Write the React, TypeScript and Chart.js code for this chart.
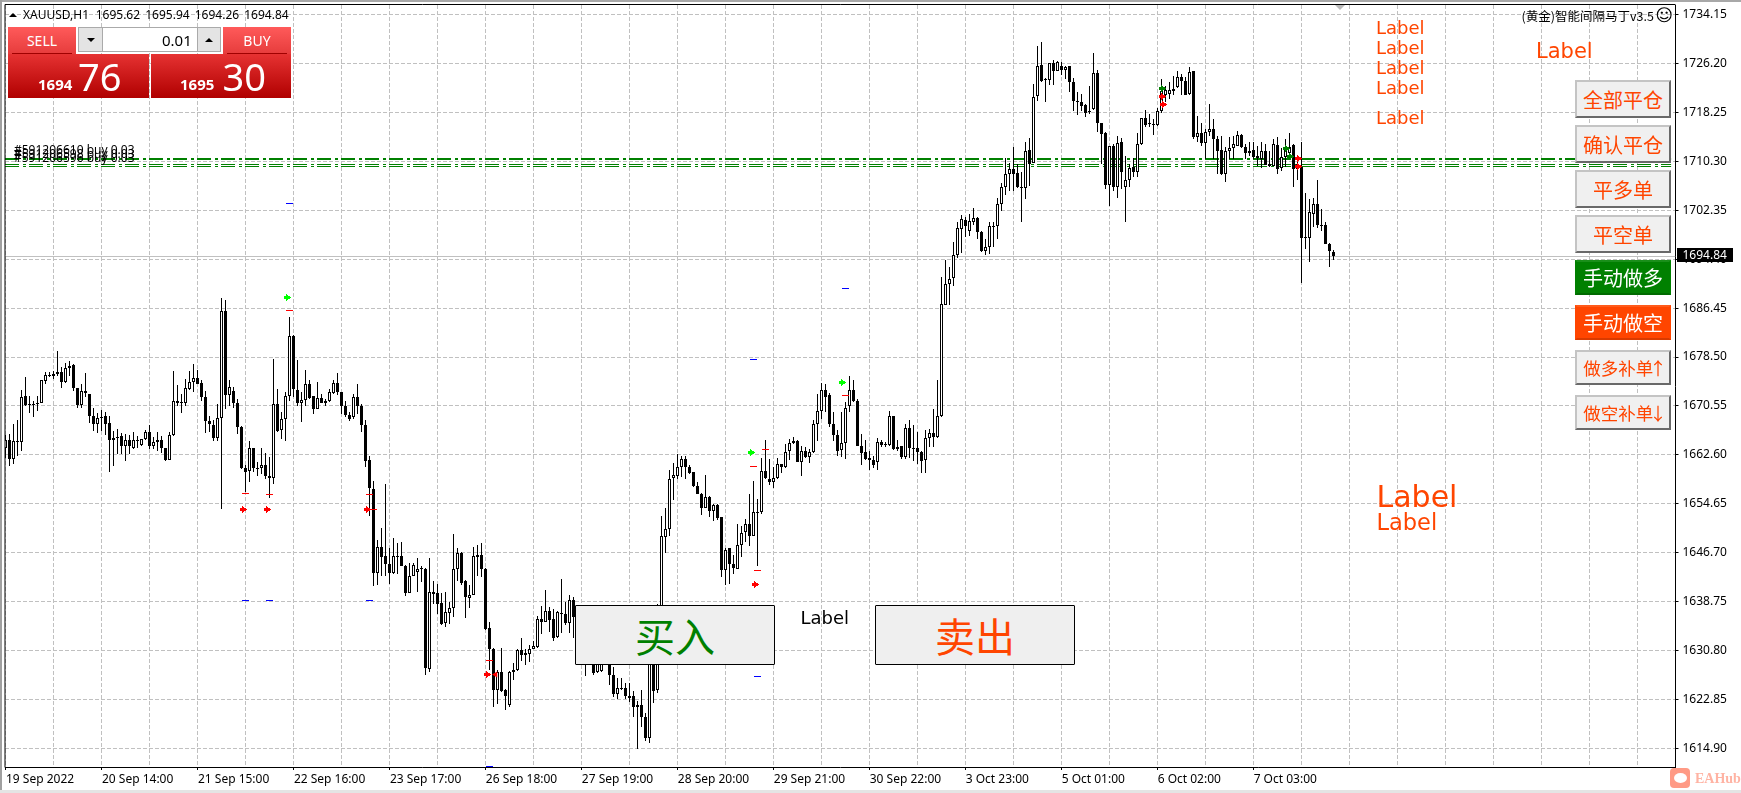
import React, { useEffect, useRef } from "react";
import { Chart, registerables } from "chart.js";

Chart.register(...registerables);

const opens = [
1663.8,1665.0,1662.0,1664.9,1664.7,1672.2,1670.8,1670.9,1670.8,1671.0,1674.6,1675.6,
1675.7,1675.7,1676.1,1674.4,1676.7,1677.2,1673.5,1670.7,1673.0,1672.5,1668.9,1667.7,
1668.8,1669.0,1667.8,1665.4,1665.5,1665.6,1664.0,1665.0,1663.8,1665.0,1664.2,1665.2,
1666.4,1664.0,1664.7,1665.0,1663.7,1661.8,1665.8,1671.4,1671.2,1671.1,1673.3,1674.4,
1675.1,1674.3,1672.0,1668.1,1667.5,1665.3,1668.6,1686.0,1672.4,1673.0,1671.0,1667.2,
1660.5,1660.0,1663.7,1660.5,1660.4,1661.0,1659.2,1658.8,1670.9,1666.6,1668.4,1672.2,
1681.9,1673.1,1671.0,1671.5,1674.1,1672.1,1670.0,1671.9,1671.0,1671.3,1672.7,1674.3,
1672.8,1670.6,1669.1,1668.7,1672.0,1670.6,1667.5,1661.7,1657.1,1643.4,1647.7,1646.1,
1644.9,1643.4,1646.2,1646.2,1644.6,1640.2,1643.0,1643.6,1644.2,1644.1,1627.8,1640.4,
1640.1,1638.5,1635.3,1636.9,1637.8,1644.1,1646.6,1642.1,1639.4,1639.8,1646.3,1646.4,
1644.1,1634.4,1631.1,1624.4,1627.4,1624.4,1622.0,1627.4,1627.6,1630.9,1630.4,1630.3,
1631.1,1631.4,1636.0,1635.5,1637.3,1635.9,1633.0,1636.9,1636.8,1635.3,1639.0,1636.3,
1633.6,1629.2,1632.5,1630.9,1627.3,1627.5,1628.8,1629.8,1626.8,1623.7,1624.8,1624.7,
1623.5,1623.4,1621.9,1621.9,1620.1,1616.6,1636.8,1624.4,1636.8,1649.3,1650.6,1658.8,
1659.1,1660.6,1661.9,1660.7,1659.9,1657.5,1656.3,1654.0,1655.8,1653.5,1654.5,1652.5,
1643.9,1647.4,1644.9,1644.1,1647.9,1650.1,1651.4,1649.4,1653.4,1653.3,1660.0,1658.7,
1658.2,1658.8,1661.2,1660.6,1663.2,1664.6,1664.9,1661.4,1663.3,1662.3,1663.1,1667.7,
1669.7,1673.2,1672.4,1667.7,1665.9,1663.4,1664.6,1670.6,1673.2,1671.4,1664.1,1663.1,
1662.1,1661.8,1661.5,1664.7,1664.3,1664.2,1669.0,1663.5,1664.1,1662.2,1667.0,1663.8,
1663.7,1663.1,1661.7,1665.3,1666.2,1665.5,1668.9,1687.0,1690.4,1691.4,1695.0,1699.3,
1700.8,1698.9,1700.4,1701.1,1698.8,1695.7,1696.3,1699.8,1699.8,1703.3,1706.1,1708.2,
1709.1,1708.4,1706.2,1706.0,1712.1,1710.1,1720.9,1726.0,1723.6,1723.5,1726.2,1724.9,
1725.7,1725.2,1725.7,1723.2,1720.1,1720.0,1719.5,1718.4,1718.8,1724.6,1716.6,1714.9,
1706.5,1712.8,1706.1,1713.5,1706.1,1707.3,1709.4,1708.5,1713.1,1717.3,1716.5,1716.3,
1716.2,1718.5,1721.1,1721.3,1721.7,1722.3,1724.0,1723.4,1721.2,1724.9,1714.2,1714.9,
1713.2,1715.0,1715.5,1714.0,1712.1,1708.3,1711.9,1712.4,1712.8,1714.6,1712.7,1712.0,
1712.1,1711.1,1710.6,1712.0,1709.9,1709.6,1713.0,1709.2,1711.0,1711.7,1713.0,1709.0,
1709.3,1698.0,1697.8,1701.8,1703.3,1700.0,1700.0,1696.9,1695.62,
];

const highs = [
1665.9,1666.0,1667.6,1668.2,1673.2,1675.3,1672.2,1671.4,1672.1,1674.8,1676.0,1676.1,
1676.3,1679.5,1676.9,1677.5,1677.9,1677.3,1673.5,1674.1,1675.9,1672.5,1670.2,1669.4,
1669.9,1669.5,1668.9,1666.5,1666.8,1666.2,1666.0,1665.9,1666.4,1665.7,1665.2,1666.7,
1667.5,1665.5,1666.3,1665.7,1663.8,1666.4,1676.3,1674.0,1672.5,1674.9,1676.3,1677.4,
1676.4,1674.7,1673.0,1668.9,1668.2,1670.9,1688.1,1687.8,1674.8,1673.6,1671.7,1667.3,
1660.9,1664.9,1663.8,1661.4,1663.7,1662.9,1662.2,1678.2,1673.3,1669.5,1672.8,1685.0,
1682.0,1678.0,1672.8,1676.4,1674.7,1672.2,1674.4,1672.5,1671.7,1673.3,1674.8,1675.9,
1672.9,1671.4,1669.5,1672.5,1674.1,1670.9,1668.3,1662.5,1658.4,1648.7,1650.8,1657.9,
1647.5,1649.1,1648.3,1648.5,1644.7,1645.1,1645.1,1645.8,1644.6,1644.2,1645.9,1642.1,
1641.7,1640.2,1640.3,1638.7,1649.8,1647.5,1646.8,1642.3,1641.4,1647.6,1647.9,1648.3,
1644.2,1635.5,1631.3,1627.7,1631.3,1624.6,1627.5,1628.8,1631.0,1632.9,1631.0,1631.8,
1632.4,1636.4,1638.0,1640.6,1637.9,1637.5,1637.3,1642.5,1638.7,1639.9,1639.5,1637.3,
1634.6,1633.6,1633.0,1631.9,1630.9,1630.3,1630.3,1630.3,1628.2,1626.4,1626.4,1625.6,
1625.6,1624.3,1622.7,1624.4,1620.6,1634.6,1637.3,1638.3,1652.6,1654.0,1660.1,1661.3,
1662.8,1662.5,1662.5,1660.9,1659.9,1658.2,1656.4,1659.4,1655.9,1654.7,1654.7,1652.5,
1647.5,1647.4,1646.3,1651.3,1651.1,1652.2,1656.2,1658.3,1655.5,1662.1,1665.0,1662.0,
1660.6,1662.1,1661.2,1664.3,1665.2,1665.5,1665.0,1664.0,1663.9,1663.6,1668.2,1672.5,
1674.3,1674.1,1672.6,1669.5,1666.7,1669.5,1671.2,1675.5,1674.7,1671.7,1666.0,1665.0,
1663.3,1662.4,1665.4,1665.1,1664.7,1669.7,1669.0,1665.1,1664.1,1667.7,1668.3,1667.5,
1666.3,1663.3,1666.6,1666.8,1670.1,1674.7,1691.5,1694.3,1693.2,1697.2,1700.5,1701.6,
1701.2,1701.7,1702.7,1701.3,1699.0,1697.6,1700.5,1700.5,1704.4,1706.8,1710.8,1710.0,
1712.7,1709.8,1708.5,1713.4,1714.1,1722.8,1729.0,1729.7,1723.9,1726.3,1726.7,1726.6,
1726.5,1725.8,1725.8,1723.8,1721.5,1721.3,1719.6,1722.6,1727.9,1725.2,1716.6,1715.0,
1712.8,1713.1,1714.4,1714.1,1711.2,1709.8,1710.9,1714.9,1717.4,1718.6,1718.0,1717.1,
1718.9,1723.6,1722.6,1723.1,1724.2,1725.0,1724.4,1724.0,1725.6,1725.0,1717.7,1716.6,
1715.5,1719.6,1717.1,1714.4,1714.4,1712.7,1714.2,1714.4,1715.2,1714.7,1713.1,1713.4,
1713.4,1712.8,1713.4,1713.1,1712.0,1713.9,1714.2,1712.5,1713.9,1714.9,1713.1,1711.4,
1713.5,1705.1,1704.2,1704.3,1707.3,1702.5,1700.4,1697.1,1695.94,
];

const lows = [
1662.1,1660.8,1661.1,1662.5,1663.3,1670.5,1669.4,1668.8,1669.7,1671.0,1674.2,1675.2,
1674.9,1675.4,1673.4,1674.3,1675.5,1673.0,1670.3,1670.2,1672.0,1667.8,1666.5,1666.1,
1666.5,1665.9,1659.9,1660.8,1662.8,1662.8,1661.6,1662.8,1663.5,1663.8,1664.1,1665.1,
1663.5,1663.5,1663.3,1662.9,1661.6,1661.7,1665.7,1670.6,1669.4,1670.6,1673.1,1672.8,
1674.2,1671.4,1666.1,1666.4,1664.9,1664.8,1653.8,1670.1,1670.6,1670.2,1666.0,1660.3,
1656.5,1658.2,1659.8,1659.2,1659.5,1658.7,1655.6,1657.9,1666.4,1665.2,1664.8,1671.3,
1672.0,1670.5,1667.9,1670.5,1671.7,1669.3,1670.0,1671.0,1670.6,1671.2,1672.5,1672.4,
1669.3,1668.8,1668.1,1668.5,1669.3,1666.3,1660.7,1652.6,1641.3,1641.4,1642.9,1642.9,
1641.6,1643.3,1643.3,1644.5,1639.6,1640.1,1642.9,1640.3,1642.0,1626.9,1627.4,1638.4,
1636.8,1634.9,1634.6,1635.2,1636.2,1642.1,1641.4,1636.1,1637.8,1639.8,1643.0,1642.8,
1634.1,1627.6,1621.7,1622.1,1624.1,1621.1,1621.7,1626.0,1627.5,1629.1,1628.4,1628.9,
1631.0,1631.3,1633.5,1635.4,1633.8,1632.4,1632.9,1633.6,1635.0,1633.6,1632.9,1632.5,
1629.8,1626.7,1628.7,1626.8,1627.1,1627.3,1628.6,1625.2,1623.3,1622.9,1624.4,1623.0,
1622.5,1620.0,1614.9,1618.4,1616.1,1615.8,1622.3,1623.9,1636.5,1646.7,1649.5,1655.2,
1658.7,1659.0,1658.7,1659.5,1657.4,1656.2,1652.8,1653.9,1652.5,1651.8,1652.0,1642.7,
1641.4,1641.6,1643.3,1644.0,1646.0,1648.5,1647.8,1649.4,1644.6,1653.0,1658.7,1657.7,
1657.2,1658.7,1659.7,1660.5,1661.7,1664.4,1661.4,1659.1,1662.1,1661.3,1662.9,1664.8,
1668.5,1669.5,1667.1,1664.8,1662.5,1662.2,1661.9,1669.5,1671.2,1664.0,1660.9,1661.7,
1660.1,1660.5,1660.1,1663.9,1663.9,1664.0,1663.4,1663.3,1662.0,1661.9,1662.1,1661.6,
1661.1,1659.7,1659.7,1663.9,1663.9,1665.3,1668.8,1687.0,1687.0,1690.0,1694.6,1695.4,
1698.0,1698.1,1700.0,1697.6,1695.6,1695.1,1695.2,1696.3,1697.6,1702.2,1704.9,1705.4,
1705.5,1705.9,1700.5,1704.1,1706.3,1710.0,1720.1,1723.2,1720.0,1722.7,1722.7,1724.9,
1724.3,1723.6,1721.5,1718.5,1717.8,1718.4,1717.5,1718.0,1718.6,1715.0,1709.9,1705.8,
1703.1,1705.5,1704.4,1705.8,1700.4,1706.2,1707.7,1707.7,1712.9,1715.9,1715.8,1714.6,
1716.1,1718.1,1719.9,1720.4,1721.1,1722.2,1721.1,1721.1,1721.1,1714.0,1713.5,1712.8,
1710.7,1714.4,1710.7,1708.3,1708.1,1707.0,1710.7,1710.7,1712.8,1712.5,1710.7,1711.2,
1710.7,1709.6,1709.2,1709.7,1709.3,1709.5,1708.3,1708.8,1709.3,1711.0,1706.2,1707.3,
1690.5,1696.1,1693.9,1699.6,1699.5,1699.0,1696.8,1693.2,1694.26,
];

const closes = [
1665.0,1662.0,1664.9,1664.7,1672.0,1670.7,1670.7,1670.7,1671.0,1674.7,1675.6,1675.5,
1675.5,1676.1,1674.4,1676.7,1677.0,1673.4,1670.7,1673.0,1672.6,1668.9,1667.7,1668.6,
1668.6,1667.7,1665.1,1665.1,1665.3,1664.1,1665.0,1664.0,1665.0,1664.9,1665.2,1666.4,
1664.0,1664.7,1665.0,1663.7,1661.8,1665.8,1671.4,1671.0,1671.0,1673.5,1674.4,1675.1,
1674.2,1672.0,1668.1,1667.6,1665.3,1668.6,1686.0,1672.4,1673.6,1671.0,1667.1,1660.4,
1659.9,1663.7,1660.4,1660.4,1661.0,1659.1,1658.8,1670.9,1666.5,1668.4,1672.2,1681.9,
1673.3,1671.0,1671.5,1674.1,1671.9,1670.0,1671.8,1671.1,1671.3,1672.8,1674.3,1672.8,
1670.5,1669.1,1668.5,1672.0,1670.5,1667.4,1661.6,1657.2,1643.4,1647.7,1646.0,1644.8,
1643.4,1646.2,1646.1,1644.5,1640.2,1643.0,1644.7,1644.1,1644.0,1628.0,1640.4,1640.0,
1638.4,1635.2,1637.0,1637.8,1644.1,1646.6,1641.8,1639.5,1639.9,1646.1,1646.0,1644.0,
1634.3,1631.0,1624.4,1627.4,1624.3,1623.4,1627.4,1627.7,1630.9,1630.1,1630.1,1631.1,
1631.6,1636.0,1635.5,1637.3,1635.8,1632.9,1637.1,1636.7,1635.3,1639.1,1636.2,1633.6,
1631.4,1632.5,1629.8,1627.2,1630.3,1629.8,1629.8,1626.8,1623.7,1624.8,1624.6,1623.4,
1623.1,1621.7,1621.7,1620.0,1616.6,1633.6,1624.3,1636.8,1649.4,1650.6,1658.7,1659.4,
1660.7,1662.0,1660.6,1659.7,1657.5,1656.2,1654.0,1655.8,1653.5,1654.4,1652.3,1643.9,
1647.2,1644.9,1644.2,1647.9,1649.9,1651.4,1649.4,1653.4,1653.3,1660.0,1658.8,1658.2,
1658.9,1661.2,1660.6,1663.1,1664.6,1664.9,1661.4,1663.3,1662.3,1663.1,1667.7,1669.8,
1673.2,1672.0,1667.7,1665.9,1663.2,1664.6,1670.3,1673.2,1671.3,1664.0,1662.9,1661.9,
1661.7,1661.0,1664.7,1664.2,1664.2,1669.0,1663.5,1663.9,1662.2,1667.0,1663.7,1663.7,
1663.1,1661.6,1665.3,1666.1,1665.5,1668.9,1687.1,1690.4,1691.2,1695.1,1699.5,1700.9,
1699.8,1700.6,1701.1,1698.8,1695.7,1696.4,1699.8,1699.7,1703.4,1706.1,1708.2,1709.0,
1708.3,1706.1,1706.0,1712.0,1709.9,1720.7,1725.8,1723.3,1723.5,1726.2,1724.9,1726.5,
1725.2,1725.6,1723.1,1720.1,1719.9,1719.3,1718.2,1718.3,1724.6,1716.5,1714.8,1706.5,
1712.8,1706.2,1713.3,1708.5,1707.3,1709.2,1708.5,1713.1,1717.3,1716.2,1716.3,1716.2,
1718.4,1721.7,1721.9,1721.9,1722.1,1724.0,1723.3,1721.1,1724.8,1714.2,1714.9,1713.2,
1715.0,1715.5,1714.0,1712.0,1708.3,1712.0,1712.4,1713.1,1714.5,1712.7,1711.7,1711.7,
1711.0,1710.8,1712.0,1709.7,1709.5,1713.1,1709.1,1711.0,1712.7,1712.7,1709.0,1709.9,
1697.9,1697.9,1702.1,1703.4,1699.9,1699.9,1696.8,1695.7,1694.84,
];

const yTicks = [1734.15,1726.2,1718.25,1710.3,1702.35,1694.4,1686.45,1678.5,1670.55,1662.6,1654.65,1646.7,1638.75,1630.8,1622.85,1614.9];
const xTickLabels = ["19 Sep 2022","20 Sep 14:00","21 Sep 15:00","22 Sep 16:00","23 Sep 17:00","26 Sep 18:00","27 Sep 19:00","28 Sep 20:00","29 Sep 21:00","30 Sep 22:00","3 Oct 23:00","5 Oct 01:00","6 Oct 02:00","7 Oct 03:00"];
const orderLineThick = 1710.7;
const orderLinesThin = [1709.81, 1709.49];
const lastPrice = 1694.84;

const limeArrows = [[70.3,1688.2],[186.4,1662.95],[209.3,1674.4]];
const greenArrows = [[289.3,1722.1],[320.3,1712.3],[321.3,1711.0]];
const redArrows = [[59.3,1653.8],[65.3,1653.8],[90.3,1653.8],[120.3,1626.9],[187.4,1641.5],[289.3,1720.8],[289.5,1719.5],[323.3,1710.7],[323.3,1709.5]];
const redLeftTriangles = [[122.4,1626.9]];
const redDashes = [[71,1686.0],[60,1656.3],[66,1656.1],[91,1656.1],[92,1653.7],[121,1629.2],[187,1660.7],[190,1663.4],[188,1643.8],[210,1672.2]];
const blueDashes = [[71,1703.4],[60,1638.9],[66,1638.9],[91,1638.9],[121,1612.0],[187,1678.1],[210,1689.6],[188,1626.6]];

const orderLabels = ["#591206610 buy 0.03", "#591206598 buy 0.03", "#591206596 buy 0.03"];
const orangeLabels: [number, number, number][] = [[1376,28.3,18],[1376,48.3,18],[1376,68.3,18],[1376,88.3,18],[1376,118.3,18],[1536,50.7,21],[1376.5,496.7,30],[1376.5,521.7,22.5]];
const sideButtons: [string, number, number, string][] = [
  ["全部平仓",80,38,"plain"],["确认平仓",125,38,"plain"],["平多单",170,38,"plain"],["平空单",215,38,"plain"],
  ["手动做多",260,35,"green"],["手动做空",305,35,"orange"],["做多补单↑",350,35,"small"],["做空补单↓",395,35,"small"],
];

const UI = '"Noto Sans", sans-serif';
const CJK = '"Noto Sans CJK SC", sans-serif';
const ORANGE = "#ff4500";
const GREEN = "#008000";

function arrowCanvas(color: string) {
  const c = document.createElement("canvas");
  c.width = 7; c.height = 7;
  const g = c.getContext("2d")!;
  g.fillStyle = color;
  ["..X....","..XX...","XXXXXX.","XXXXXXX","XXXXXX.","..XX...","..X...."].forEach((row, y) =>
    row.split("").forEach((ch, x) => { if (ch === "X") g.fillRect(x, y, 1, 1); }));
  return c;
}
const toXY = (a: number[][]) => a.map(([x, y]) => ({ x, y }));

const snap = {
  id: "snap",
  afterDatasetsUpdate(chart: any) {
    chart.getSortedVisibleDatasetMetas().forEach((meta: any) => {
      meta.data.forEach((el: any) => {
        if (meta.type === "bar") {
          const top = Math.round(Math.min(el.y, el.base));
          let bot = Math.round(Math.max(el.y, el.base));
          if (bot - top < 1) bot = top + 1;
          el.y = top; el.base = bot; el.height = bot - top;
          el.x = Math.floor(el.x) + 0.5;
          el.width = meta.controller.getDataset().maxBarThickness;
        } else if (meta.type === "line") {
          const w = meta.controller.getDataset().borderWidth;
          el.y = w === 2 ? Math.round(el.y) : Math.floor(el.y) + 0.5;
        } else {
          el.x = Math.floor(el.x) + 0.5; el.y = Math.floor(el.y) + 0.5;
        }
      });
    });
  },
};

const frame = {
  id: "frame",
  afterDatasetsDraw(chart: any) {
    const { ctx, chartArea: a } = chart;
    ctx.save();
    ctx.strokeStyle = "#000"; ctx.lineWidth = 1;
    ctx.beginPath();
    ctx.moveTo(a.left, 767.5); ctx.lineTo(a.left, 4.5); ctx.lineTo(a.right, 4.5);
    ctx.stroke();
    ctx.restore();
  },
};

function Box({ l, t, w, h, style, children }: any) {
  return <div style={{ position: "absolute", left: l, top: t, width: w, height: h, boxSizing: "border-box", ...style }}>{children}</div>;
}
function Txt({ x, y, size, color = "#000", font = UI, bold = false, children, style }: any) {
  return <div style={{ position: "absolute", left: x, top: y - 20, height: 40, lineHeight: "40px", fontSize: size, color, fontFamily: font, fontWeight: bold ? 700 : 400, whiteSpace: "pre", ...style }}>{children}</div>;
}
const center = { display: "flex", alignItems: "center", justifyContent: "center" };
const LINE_END = 416.4;

export default function App() {
  const ref = useRef<HTMLCanvasElement>(null);
  useEffect(() => {
    const idx = opens.map((_, i) => i);
    const chart = new Chart(ref.current!, {
      type: "bar",
      plugins: [snap, frame],
      data: {
        datasets: [
          { type: "scatter", data: toXY(limeArrows), pointStyle: arrowCanvas("#00ff00"), pointRadius: 3.5 },
          { type: "scatter", data: toXY(greenArrows), pointStyle: arrowCanvas(GREEN), pointRadius: 3.5 },
          { type: "scatter", data: toXY(redArrows), pointStyle: arrowCanvas("#ff0000"), pointRadius: 3.5 },
          { type: "scatter", data: toXY(redLeftTriangles), pointStyle: "triangle", rotation: 270, pointRadius: 3.5, pointBackgroundColor: "#ff0000", pointBorderColor: "#ff0000", pointBorderWidth: 0 },
          { type: "scatter", data: toXY(redDashes), pointStyle: "line", pointRadius: 3.5, pointBorderColor: "#ff0000", pointBorderWidth: 1 },
          { type: "scatter", data: toXY(blueDashes), pointStyle: "line", pointRadius: 3.5, pointBorderColor: "#0000ff", pointBorderWidth: 1 },
          {
            type: "bar", grouped: false, barPercentage: 1, categoryPercentage: 1, maxBarThickness: 3, inflateAmount: 0,
            borderSkipped: false, borderWidth: 1, borderColor: "#000",
            backgroundColor: idx.map((i) => (closes[i] > opens[i] ? "#fff" : "#000")),
            data: idx.map((i) => ({ x: i, y: [opens[i], closes[i]] })),
          },
          {
            type: "bar", grouped: false, barPercentage: 1, categoryPercentage: 1, maxBarThickness: 1, inflateAmount: 0,
            borderWidth: 0, backgroundColor: "#000",
            data: idx.map((i) => ({ x: i, y: [lows[i], highs[i]] })),
          },
          { type: "line", data: [{ x: -0.25, y: orderLineThick }, { x: LINE_END, y: orderLineThick }], borderColor: GREEN, borderWidth: 2, borderDash: [14, 4, 3, 3], pointRadius: 0 },
          { type: "line", data: [{ x: -0.25, y: orderLinesThin[0] }, { x: LINE_END, y: orderLinesThin[0] }], borderColor: GREEN, borderWidth: 1, borderDash: [14, 4, 3, 3], pointRadius: 0 },
          { type: "line", data: [{ x: -0.25, y: orderLinesThin[1] }, { x: LINE_END, y: orderLinesThin[1] }], borderColor: GREEN, borderWidth: 1, borderDash: [14, 4, 3, 3], pointRadius: 0 },
          { type: "line", data: [{ x: -0.25, y: lastPrice }, { x: 417.5, y: lastPrice }], borderColor: "#c0c0c0", borderWidth: 1, pointRadius: 0 },
        ] as any,
      },
      options: {
        responsive: false,
        animation: false,
        events: [],
        layout: { padding: { left: 4.5, top: 4, right: 0, bottom: 0 } },
        plugins: { legend: { display: false }, tooltip: { enabled: false }, title: { display: false } },
        scales: {
          x: {
            type: "linear", min: -0.25, max: 417.5, offset: false,
            afterBuildTicks(s: any) { const t = []; for (let v = 0; v <= 408; v += 12) t.push({ value: v }); s.ticks = t; },
            afterFit(s: any) { s.height = 26; s.paddingLeft = 0; s.paddingRight = 0; },
            grid: { offset: false, color: "#c0c0c0", tickLength: 3, tickColor: (c: any) => (c.tick && c.tick.value % 24 === 0 && c.tick.value <= 312 ? "#000" : "rgba(0,0,0,0)") },
            border: { display: true, color: "#000", width: 1, dash: [4, 2] },
            ticks: {
              autoSkip: false, maxRotation: 0, minRotation: 0, align: "start", padding: 2, color: "#000",
              font: { family: "Noto Sans", size: 12 },
              callback: (v: any) => (v % 24 === 0 ? xTickLabels[v / 24] ?? "" : ""),
            },
          },
          y: {
            type: "linear", position: "right", min: 1611.9, max: 1735.69,
            afterBuildTicks(s: any) { s.ticks = yTicks.map((value) => ({ value })); },
            afterFit(s: any) { s.width = 65.5; s.paddingTop = 0; s.paddingBottom = 0; },
            grid: { color: "#c0c0c0", tickLength: 3, tickColor: "#000" },
            border: { display: true, color: "#000", width: 1, dash: [4, 2] },
            ticks: {
              autoSkip: false, padding: 4, color: "#000",
              font: { family: "Noto Sans", size: 12 },
              callback: (v: any) => Number(v).toFixed(2),
            },
          },
        },
      } as any,
    });
    return () => chart.destroy();
  }, []);

  return (
    <div style={{ position: "fixed", left: 0, top: 0, width: 1741, height: 793, overflow: "hidden", background: "#fff" }}>
      <canvas ref={ref} width={1741} height={793} style={{ position: "absolute", left: 0, top: 0, width: 1741, height: 793 }} />

      {/* window frame */}
      <Box l={0} t={0} w={1741} h={2} style={{ background: "#a8a8a8" }} />
      <Box l={0} t={0} w={2} h={793} style={{ background: "#a0a0a0" }} />
      <Box l={0} t={790} w={1741} h={3} style={{ background: "#e4e4e4" }} />

      {/* header */}
      <div style={{ position: "absolute", left: 8.5, top: 13, width: 0, height: 0, borderLeft: "4.5px solid transparent", borderRight: "4.5px solid transparent", borderBottom: "4.5px solid #000" }} />
      <Txt x={23} y={14.5} size={12}>XAUUSD,H1</Txt>
      <Txt x={95.7} y={14.5} size={12} style={{ wordSpacing: 2 }}>1695.62 1695.94 1694.26 1694.84</Txt>
      <div style={{ position: "absolute", left: 1335, top: 5, width: 0, height: 0, borderLeft: "5px solid transparent", borderRight: "5px solid transparent", borderTop: "5px solid #bbb" }} />
      <Txt x={1521.5} y={15.5} size={12.5} font={CJK}>(黄金)智能间隔马丁v3.5</Txt>
      <Txt x={1655.5} y={15} size={17} font='"DejaVu Sans", sans-serif'>☺</Txt>

      {/* trade panel */}
      <Box l={8} t={27} w={68} h={27} style={{ background: "linear-gradient(#ff5a5a,#e63c3c)", ...center, color: "#fff", fontSize: 14, fontFamily: UI }}>SELL</Box>
      <Box l={12} t={53} w={60} h={1} style={{ background: "#a00000" }} />
      <Box l={223} t={27} w={68} h={27} style={{ background: "linear-gradient(#ff5a5a,#e63c3c)", ...center, color: "#fff", fontSize: 14, fontFamily: UI }}>BUY</Box>
      <Box l={227} t={53} w={60} h={1} style={{ background: "#a00000" }} />
      <Box l={8} t={54} w={141} h={44} style={{ background: "linear-gradient(#e63232,#b00000)" }} />
      <Box l={151} t={54} w={140} h={44} style={{ background: "linear-gradient(#e63232,#b00000)" }} />
      <Txt x={38} y={84} size={15} color="#fff" bold>1694</Txt>
      <Txt x={78} y={76} size={38} color="#fff">76</Txt>
      <Txt x={180} y={84} size={15} color="#fff" bold>1695</Txt>
      <Txt x={222.5} y={76} size={38} color="#fff">30</Txt>
      <Box l={78} t={27} w={143} h={25} style={{ background: "#fff", border: "1px solid #aaa" }} />
      <Box l={79} t={28} w={24} h={23} style={{ background: "#e4e4e4", borderRight: "1px solid #aaa", ...center }}>
        <div style={{ width: 0, height: 0, borderLeft: "4px solid transparent", borderRight: "4px solid transparent", borderTop: "4px solid #000" }} />
      </Box>
      <Box l={197} t={28} w={23} h={23} style={{ background: "#e4e4e4", borderLeft: "1px solid #aaa", ...center }}>
        <div style={{ width: 0, height: 0, borderLeft: "4px solid transparent", borderRight: "4px solid transparent", borderBottom: "4px solid #000" }} />
      </Box>
      <Txt x={162} y={40} size={15}>0.01</Txt>

      {/* order labels */}
      {orderLabels.map((t, i) => <Txt key={t} x={14} y={150 + i * 4} size={12}>{t}</Txt>)}

      {/* orange labels */}
      {orangeLabels.map(([x, y, s], i) => <Txt key={i} x={x} y={y} size={s} color={ORANGE} font='"DejaVu Sans", sans-serif'>Label</Txt>)}
      <Txt x={800.5} y={618} size={18} font='"DejaVu Sans", sans-serif'>Label</Txt>

      {/* side buttons */}
      {sideButtons.map(([t, top, h, kind]) => {
        const filled = kind === "green" || kind === "orange";
        const bg = kind === "green" ? GREEN : kind === "orange" ? ORANGE : "#f0f0f0";
        return (
          <Box key={t} l={1575} t={top} w={96} h={h} style={{
            background: bg,
            borderTop: `2px solid ${filled ? (kind === "green" ? "#1a8f1a" : "#ff5a1a") : "#c4c4c4"}`,
            borderLeft: `2px solid ${filled ? bg : "#c4c4c4"}`,
            borderBottom: `2px solid ${filled ? (kind === "green" ? "#006a00" : "#d93a00") : "#696969"}`,
            borderRight: `2px solid ${filled ? bg : "#696969"}`,
            ...center, fontFamily: CJK, fontSize: kind === "small" ? 17.5 : 20, color: filled ? "#fff" : ORANGE, whiteSpace: "nowrap",
          }}>
            {kind === "small" ? <>{t.slice(0, 4)}<span style={{ marginLeft: -4, marginRight: -4 }}>{t.slice(4)}</span></> : t}
          </Box>
        );
      })}

      {/* last price tag */}
      <Box l={1677} t={248} w={56} h={14} style={{ background: "#000", color: "#fff", fontFamily: UI, fontSize: 12, paddingLeft: 5.5, lineHeight: "14px" }}>1694.84</Box>

      {/* big buttons */}
      <Box l={575} t={605} w={200} h={60} style={{ background: "#efefef", border: "1px solid #000", borderRadius: 1, ...center, fontFamily: CJK, fontSize: 40, color: GREEN }}>买入</Box>
      <Box l={875} t={605} w={200} h={60} style={{ background: "#efefef", border: "1px solid #000", borderRadius: 1, ...center, fontFamily: CJK, fontSize: 40, color: ORANGE }}>卖出</Box>

      {/* watermark */}
      <Box l={1670} t={768} w={20} h={20} style={{ background: "#ff9a85", borderRadius: 4, ...center }}>
        <div style={{ width: 13, height: 10, background: "#fff", borderRadius: "50%" }} />
      </Box>
      <Txt x={1695} y={778.5} size={14} color="#ffb3a3" bold font='"Liberation Serif", serif'>EAHub</Txt>
    </div>
  );
}
